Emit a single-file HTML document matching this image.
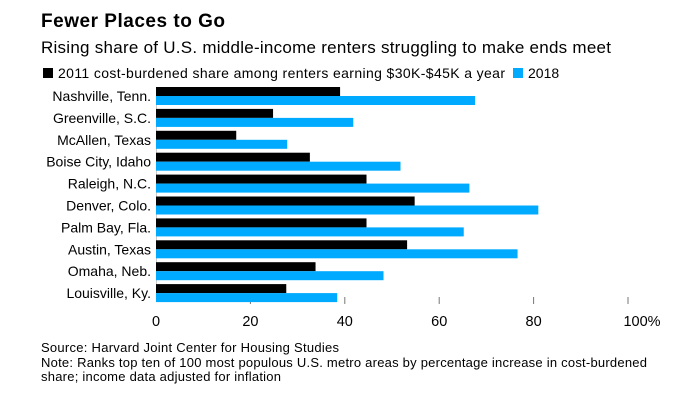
<!DOCTYPE html>
<html><head><meta charset="utf-8"><style>
body{margin:0;background:#fff;font-family:"Liberation Sans",sans-serif;}
svg text{font-family:"Liberation Sans",sans-serif;}
</style></head><body>
<svg width="680" height="403">
<text x="41" y="27" font-size="19" font-weight="bold" fill="#000" textLength="184">Fewer Places to Go</text>
<text x="41" y="53" font-size="17" fill="#000" textLength="570">Rising share of U.S. middle-income renters struggling to make ends meet</text>
<rect x="43" y="68" width="10" height="10" fill="#000"/>
<text x="58" y="78" font-size="14" textLength="447">2011 cost-burdened share among renters earning $30K-$45K a year</text>
<rect x="513" y="68" width="10" height="10" fill="#00aaff"/>
<text x="528" y="78" font-size="14">2018</text>
<g id="plot"></g>
<text x="41" y="352" font-size="13" textLength="298">Source: Harvard Joint Center for Housing Studies</text>
<text x="41" y="367" font-size="13" textLength="606">Note: Ranks top ten of 100 most populous U.S. metro areas by percentage increase in cost-burdened</text>
<text x="41" y="381" font-size="13" textLength="240">share; income data adjusted for inflation</text>
</svg>
<script>
const categories=["Nashville, Tenn.","Greenville, S.C.","McAllen, Texas","Boise City, Idaho","Raleigh, N.C.","Denver, Colo.","Palm Bay, Fla.","Austin, Texas","Omaha, Neb.","Louisville, Ky."];
const values2011=[39,24.8,17,32.6,44.6,54.8,44.6,53.2,33.8,27.6];
const values2018=[67.6,41.8,27.8,51.8,66.4,81,65.2,76.6,48.2,38.4];
const tickValues=[0,20,40,60,80,100];
const tickLabels=["0","20","40","60","80","100%"];
const NS="http://www.w3.org/2000/svg";
const g=document.getElementById('plot');
const x=v=>156+v*4.72;
const y=i=>87+i*21.9;
function mk(t,a){const e=document.createElementNS(NS,t);for(const k in a)e.setAttribute(k,a[k]);g.appendChild(e);return e;}
tickValues.forEach((v,i)=>{
 if(v>0){const l=mk('line',{x1:x(v),x2:x(v),y1:297,y2:304,stroke:'#777','stroke-width':1});
 
 }
 const t=mk('text',{x:x(v),y:326,'font-size':14.5,'text-anchor':'middle'});
 if(v===100)t.setAttribute('x',x(v)+14);
 t.textContent=tickLabels[i];
 
 
});
mk('line',{x1:x(0)+.5,x2:x(0)+.5,y1:87,y2:302,stroke:'#ccc','stroke-width':1});
categories.forEach((c,i)=>{
 const t=mk('text',{x:151,y:y(i)+14,'font-size':14,'text-anchor':'end'});
 t.textContent=c;
 
 
 const a=mk('rect',{x:x(0),y:y(i),width:x(values2011[i])-x(0),height:9,fill:'#000'});
 
 
 const b=mk('rect',{x:x(0),y:y(i)+9,width:x(values2018[i])-x(0),height:9,fill:'#00aaff'});
 
 
});
</script>
</body></html>
